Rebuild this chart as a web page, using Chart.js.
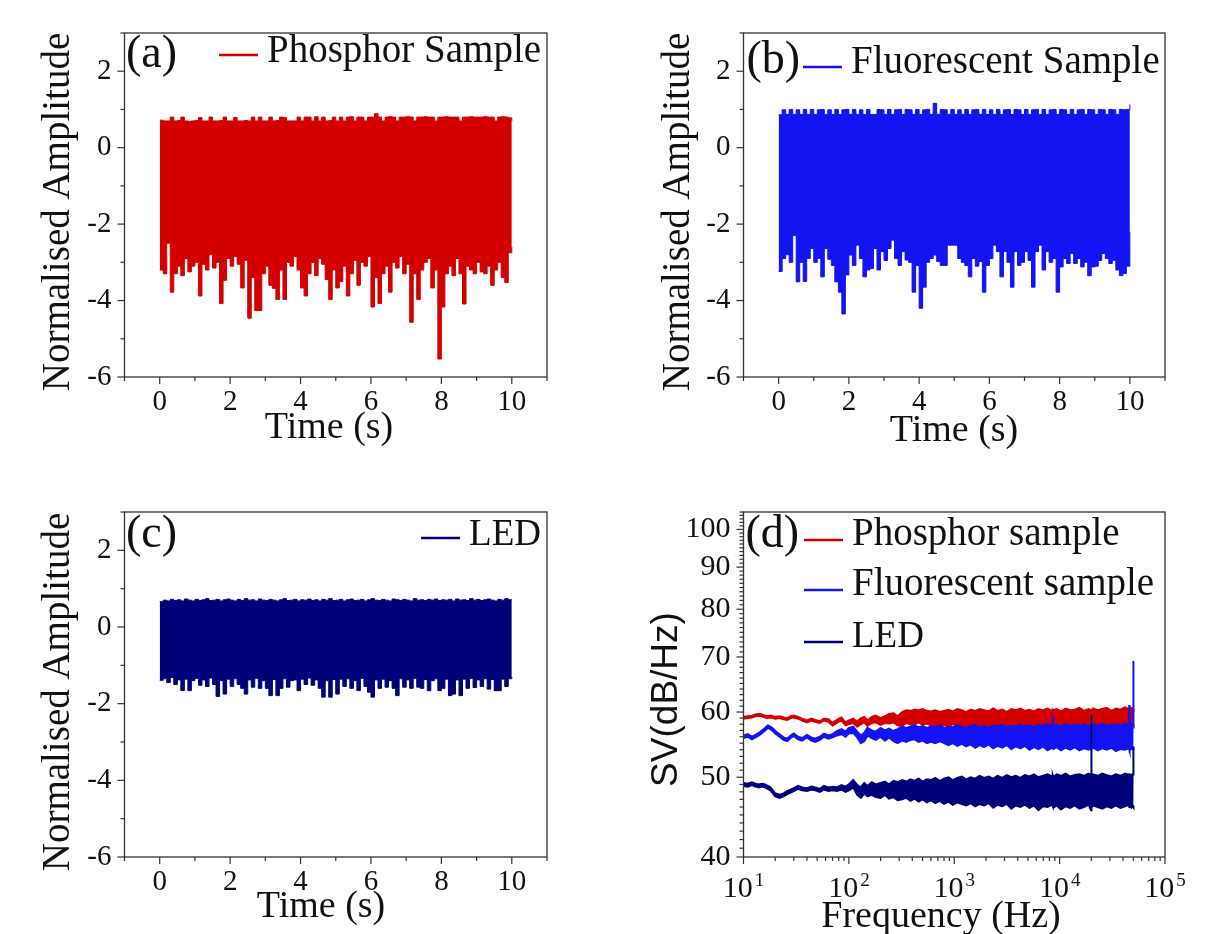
<!DOCTYPE html>
<html>
<head>
<meta charset="utf-8">
<title>Noise traces and spectra</title>
<script src="https://cdn.jsdelivr.net/npm/chart.js@4.4.1/dist/chart.umd.min.js"></script>
<style>
  html, body { margin: 0; padding: 0; background: #fff; }
  #page { position: relative; width: 1208px; height: 934px; overflow: hidden; background: #fff; }
  #page canvas { position: absolute; left: 0; top: 0; }
</style>
</head>
<body>
<div id="page">
  <canvas id="chartA" width="1208" height="934"></canvas>
  <canvas id="chartB" width="1208" height="934"></canvas>
  <canvas id="chartC" width="1208" height="934"></canvas>
  <canvas id="chartD" width="1208" height="934"></canvas>
</div>
<script>
// ---------- data ----------
// time traces: upper / lower envelope per 0.1 s bin (last value = t 10 s)
var tStep = 0.1;

var hiA = [0.72,0.70,0.70,0.80,0.70,0.71,0.80,0.70,0.69,0.70,
  0.71,0.79,0.70,0.70,0.80,0.70,0.70,0.71,0.80,0.70,
  0.70,0.79,0.70,0.70,0.71,0.70,0.80,0.70,0.80,0.70,
  0.70,0.80,0.70,0.71,0.80,0.79,0.70,0.70,0.70,0.80,
  0.70,0.80,0.80,0.70,0.81,0.70,0.80,0.70,0.71,0.80,
  0.70,0.80,0.70,0.80,0.81,0.70,0.80,0.80,0.70,0.80,
  0.80,0.89,0.80,0.70,0.80,0.81,0.80,0.70,0.80,0.80,
  0.81,0.80,0.70,0.80,0.80,0.81,0.80,0.80,0.70,0.80,
  0.80,0.81,0.80,0.80,0.80,0.70,0.80,0.80,0.81,0.80,
  0.80,0.80,0.81,0.80,0.80,0.70,0.80,0.81,0.80,0.78,
  0.70];
var loA = [-3.2,-3.3,-2.5,-3.78,-3.3,-3.1,-3.35,-2.9,-3.25,-3.1,
  -3.0,-3.88,-3.05,-3.2,-2.8,-3.15,-3.0,-4.08,-3.47,-2.9,
  -3.1,-2.85,-3.05,-3.67,-2.95,-4.46,-3.4,-4.26,-4.26,-3.3,
  -3.1,-3.6,-3.68,-3.97,-3.2,-3.97,-3.0,-3.1,-2.85,-3.2,
  -3.67,-3.88,-3.3,-3.0,-3.35,-2.9,-3.05,-3.45,-3.97,-3.2,
  -3.67,-3.5,-3.1,-3.88,-3.3,-2.95,-3.6,-3.0,-3.1,-2.85,
  -4.17,-3.4,-4.08,-3.3,-3.1,-3.78,-3.0,-3.15,-2.85,-3.3,
  -3.05,-4.57,-3.3,-3.97,-3.2,-3.0,-2.9,-3.67,-3.2,-5.53,
  -4.17,-3.3,-3.1,-3.35,-2.9,-3.3,-4.09,-3.1,-3.2,-3.3,
  -3.0,-3.25,-3.3,-3.1,-3.6,-3.2,-3.0,-3.4,-3.53,-2.75,
  -2.6];

var hiB = [0.86,0.99,0.87,1.0,0.87,0.99,0.87,1.0,0.87,1.0,
  0.87,0.99,1.0,0.87,0.99,0.87,1.0,0.87,0.99,1.0,
  0.87,1.0,0.87,0.99,0.87,1.0,0.87,0.87,1.0,0.99,
  0.87,1.0,0.87,0.99,1.0,0.87,1.0,0.99,0.87,1.0,
  0.87,0.99,1.0,0.87,1.16,0.87,1.0,0.99,0.87,1.0,
  0.87,0.99,0.87,1.0,0.87,0.99,1.0,0.87,1.0,0.87,
  0.99,0.87,1.0,0.87,0.99,1.0,0.87,1.0,0.99,0.87,
  1.0,0.87,0.99,1.0,0.87,1.0,0.87,0.99,1.0,0.87,
  1.0,0.99,0.87,1.0,0.87,0.99,1.0,0.87,1.0,0.99,
  0.87,1.0,0.99,0.87,1.0,0.99,0.87,1.0,0.99,1.0,
  1.13];
var loB = [-3.24,-2.9,-2.8,-3.0,-2.3,-3.51,-3.0,-3.5,-2.9,-2.64,
  -3.0,-2.9,-3.38,-2.64,-2.92,-3.08,-3.51,-3.78,-4.35,-3.33,
  -2.81,-3.08,-2.55,-2.9,-3.38,-3.2,-3.16,-2.64,-3.2,-2.72,
  -2.95,-2.64,-2.42,-2.9,-3.08,-2.72,-2.94,-3.0,-3.78,-3.08,
  -4.2,-3.65,-3.0,-2.9,-2.81,-2.98,-3.08,-3.08,-2.55,-2.55,
  -2.55,-2.9,-3.0,-3.08,-3.38,-2.9,-3.1,-2.98,-3.78,-3.08,
  -2.9,-2.55,-2.72,-3.38,-2.72,-3.0,-3.65,-2.72,-3.08,-3.0,
  -2.72,-2.95,-3.65,-2.72,-2.55,-3.2,-2.72,-3.0,-2.9,-3.78,
  -3.12,-2.9,-3.03,-2.77,-3.03,-2.9,-3.12,-3.0,-3.35,-3.12,
  -3.1,-2.95,-2.77,-2.9,-3.03,-2.95,-3.2,-3.35,-3.29,-3.1,
  -2.2];

var hiC = [0.66,0.70,0.68,0.72,0.69,0.71,0.68,0.73,0.70,0.68,
  0.72,0.69,0.71,0.74,0.69,0.70,0.72,0.68,0.71,0.73,
  0.70,0.68,0.72,0.69,0.74,0.70,0.71,0.68,0.73,0.70,
  0.69,0.72,0.70,0.68,0.71,0.74,0.69,0.70,0.72,0.68,
  0.71,0.70,0.73,0.69,0.71,0.68,0.72,0.70,0.74,0.69,
  0.70,0.72,0.68,0.71,0.73,0.69,0.70,0.72,0.68,0.71,
  0.74,0.70,0.69,0.72,0.70,0.68,0.73,0.71,0.69,0.72,
  0.70,0.68,0.74,0.70,0.71,0.69,0.72,0.70,0.73,0.69,
  0.71,0.70,0.72,0.68,0.73,0.70,0.71,0.69,0.74,0.70,
  0.72,0.69,0.71,0.73,0.70,0.68,0.72,0.70,0.74,0.71,
  0.72];
var loC = [-1.39,-1.35,-1.45,-1.32,-1.5,-1.38,-1.66,-1.36,-1.66,-1.4,
  -1.34,-1.52,-1.38,-1.55,-1.33,-1.5,-1.81,-1.4,-1.75,-1.36,
  -1.55,-1.35,-1.5,-1.6,-1.75,-1.38,-1.57,-1.34,-1.6,-1.4,
  -1.6,-1.79,-1.37,-1.79,-1.6,-1.35,-1.57,-1.4,-1.38,-1.66,
  -1.36,-1.5,-1.33,-1.52,-1.38,-1.6,-1.83,-1.4,-1.83,-1.37,
  -1.75,-1.36,-1.55,-1.35,-1.6,-1.4,-1.66,-1.34,-1.55,-1.7,
  -1.83,-1.38,-1.6,-1.36,-1.57,-1.4,-1.6,-1.79,-1.35,-1.57,
  -1.38,-1.6,-1.34,-1.57,-1.6,-1.37,-1.66,-1.4,-1.35,-1.66,
  -1.6,-1.36,-1.79,-1.75,-1.38,-1.79,-1.36,-1.6,-1.34,-1.58,
  -1.38,-1.55,-1.35,-1.62,-1.37,-1.66,-1.66,-1.36,-1.55,-1.35,
  -1.3];

// spectra: frequency (Hz) and upper / lower envelope (dB/Hz)
var freqD = [10,11,12,13,14,15,16,17,18,19,
  20,22,24,26,28,30,33,36,40,44,
  48,53,58,64,70,77,85,93,100,110,
  120,130,140,150,165,180,200,220,240,265,
  290,320,350,385,420,460,500,550,600,660,
  730,800,880,970,1070,1180,1300,1430,1580,1740,
  1920,2120,2340,2580,2850,3150,3480,3840,4240,4680,
  5170,5710,6300,6960,7680,8480,8600,8720,9360,10300,
  11400,12600,13900,15400,17000,18800,19900,20000,20100,20800,
  23000,25400,28000,31000,34200,37800,41700,45500,45800,46100,
  48000,49700,49900,50100,50500];

var phosHi = [59.2,59.3,59.4,59.6,59.7,59.6,59.4,59.3,59.4,59.3,
  59.2,59.3,59.1,59.0,59.3,59.4,59.2,58.9,58.6,58.9,
  58.7,58.5,58.9,58.8,58.2,58.7,59.1,58.3,58.6,58.9,
  58.4,59.0,59.2,58.6,59.2,59.4,59.0,59.3,59.7,59.8,
  59.3,60.0,60.3,60.2,60.4,60.3,60.5,60.2,60.1,60.3,
  60.0,60.2,60.4,60.1,60.5,60.3,60.0,60.4,60.2,60.5,
  60.3,60.1,60.6,60.2,60.4,60.0,60.5,60.3,60.6,60.2,
  60.4,60.1,60.5,60.3,60.6,60.2,60.4,60.3,60.5,60.1,
  60.6,60.3,60.4,60.7,60.2,60.5,60.3,60.4,60.3,60.6,
  60.3,60.5,60.7,60.2,60.6,60.4,60.8,60.5,60.6,60.4,
  60.7,60.5,60.6,60.5,60.4];
var phosLo = [58.9,59.0,59.1,59.3,59.4,59.3,59.1,59.0,59.1,59.0,
  58.9,59.0,58.8,58.7,59.0,59.1,58.9,58.6,58.3,58.6,
  58.4,58.2,58.6,58.4,57.8,58.2,58.6,57.8,58.0,58.2,
  57.6,58.0,58.3,57.7,58.2,58.3,57.9,58.2,58.1,58.3,
  57.8,57.7,58.2,57.9,58.0,58.3,57.9,58.1,57.8,57.6,
  57.8,57.9,57.6,58.0,57.7,57.9,57.6,57.8,58.0,57.7,
  57.9,57.6,57.8,57.5,57.9,57.7,57.6,57.9,57.5,57.8,
  57.6,57.8,57.5,57.7,57.9,57.6,57.8,57.7,57.6,57.8,
  57.5,57.7,57.9,57.6,57.8,57.5,57.7,57.6,57.8,57.5,
  57.7,57.9,57.6,57.8,57.5,57.7,57.9,57.6,57.8,57.7,
  57.6,57.8,57.7,57.9,58.0];

var fluoHi = [56.2,56.4,56.0,56.3,56.6,57.0,57.4,57.8,57.6,57.3,
  56.9,56.4,55.9,55.7,56.2,56.5,56.0,55.8,56.3,55.9,
  55.7,56.0,56.5,56.2,56.4,56.9,57.2,56.8,57.4,57.6,
  56.8,56.2,56.6,57.4,57.0,56.8,57.4,57.0,57.3,56.9,
  57.2,57.6,57.4,57.6,57.8,57.5,57.7,57.4,57.6,57.5,
  57.8,57.4,57.6,57.5,57.8,57.6,57.4,57.7,57.9,57.5,
  57.7,57.4,57.8,57.6,57.9,57.5,57.7,57.6,57.9,57.6,
  57.8,57.5,57.9,57.7,58.0,57.8,59.5,57.7,57.9,57.6,
  58.0,57.7,57.9,57.8,58.0,57.6,57.9,57.8,57.7,58.0,
  57.8,58.1,57.7,57.9,58.0,57.8,58.1,57.9,61.2,58.0,
  58.1,57.9,69.2,58.0,57.8];
var fluoLo = [55.8,56.0,55.6,55.9,56.2,56.6,57.0,57.4,57.2,56.9,
  56.5,56.0,55.5,55.3,55.8,56.1,55.6,55.4,55.9,55.4,
  55.2,55.5,56.0,55.7,55.9,56.2,56.4,56.0,56.5,56.6,
  55.9,55.0,55.3,56.2,55.8,55.5,56.0,55.4,55.9,55.3,
  55.0,55.4,55.2,55.5,55.6,55.2,55.4,55.0,55.2,55.0,
  55.3,55.0,54.7,55.0,54.6,54.9,54.5,54.8,54.3,54.7,
  54.4,54.8,54.2,54.6,54.3,54.7,54.1,54.5,54.2,54.6,
  54.0,54.4,54.1,54.5,53.9,54.3,54.2,54.1,54.4,53.9,
  54.3,54.0,54.4,53.9,54.2,54.0,54.3,53.9,54.1,54.3,
  53.9,54.2,54.0,54.3,53.8,54.1,54.0,54.2,54.1,53.9,
  54.2,54.0,54.1,54.0,54.3];

var ledHi = [49.2,49.1,49.3,49.1,49.0,49.1,49.0,48.8,48.6,48.2,
  47.8,47.6,47.8,48.1,48.3,48.5,48.8,48.6,48.5,48.7,
  48.6,48.4,48.8,48.6,48.7,48.6,48.9,48.7,49.0,49.6,
  48.9,48.6,49.2,48.8,49.3,49.0,49.2,49.4,49.0,49.5,
  49.3,49.6,49.4,49.7,49.5,49.8,49.4,49.7,49.6,49.9,
  49.5,49.8,50.0,49.6,49.9,50.1,49.7,50.0,49.8,50.2,
  49.9,50.1,49.8,50.2,49.9,50.3,50.0,50.2,49.9,50.3,
  50.1,50.4,50.0,50.2,50.4,50.1,50.3,50.0,50.4,50.2,
  50.5,50.1,50.3,50.4,50.2,50.5,50.3,59.6,50.2,50.4,
  50.2,50.5,50.3,50.1,50.4,50.2,50.5,50.3,50.1,50.4,
  50.3,50.5,50.2,54.5,50.2];
var ledLo = [48.8,48.7,48.9,48.7,48.6,48.7,48.6,48.4,48.2,47.8,
  47.4,47.2,47.4,47.7,47.9,48.1,48.4,48.2,48.1,48.3,
  48.2,48.0,48.3,48.1,48.2,48.1,48.3,48.0,48.2,48.6,
  47.6,47.2,47.8,47.4,47.6,47.3,47.2,47.6,47.1,47.3,
  46.9,47.0,47.2,46.8,47.1,46.7,47.0,46.6,46.9,46.5,
  46.8,46.4,46.7,46.3,46.6,46.4,46.2,46.5,46.1,46.4,
  46.2,46.5,45.9,46.3,46.1,46.4,45.8,46.2,46.0,46.3,
  45.9,46.2,45.6,46.1,46.0,46.3,46.1,45.9,46.2,45.7,
  46.1,45.9,46.2,45.8,46.0,46.3,45.6,46.1,45.9,46.2,
  46.0,45.8,46.1,45.9,46.2,45.9,46.1,46.3,46.0,46.2,
  45.9,46.1,46.0,46.2,46.1];

// names and tick labels
var traceNames = ['Phosphor Sample', 'Fluorescent Sample', 'LED'];
var spectrumNames = ['Phosphor sample', 'Fluorescent sample', 'LED'];
var timeTickLabels = [0, 2, 4, 6, 8, 10];
var ampTickLabels = [-6, -4, -2, 0, 2];
var svTickLabels = [40, 50, 60, 70, 80, 90, 100];
var freqDecades = [1, 2, 3, 4, 5];

// ---------- styling ----------
var RED = '#d40000', BLUE = '#1414f2', NAVY = '#00007a';
var SERIF = '"Liberation Serif", "Times New Roman", serif';
var SANS = '"Liberation Sans", Arial, sans-serif';
var INK = '#111';
var AXIS = '#333';

function tickMarks(ctx, scale, area, isMajor) {
  var horiz = scale.isHorizontal();
  scale.ticks.forEach(function (t) {
    var p = scale.getPixelForValue(t.value);
    var len = isMajor(t.value) ? 7 : 4;
    ctx.beginPath();
    if (horiz) {
      ctx.moveTo(p, area.bottom);
      ctx.lineTo(p, area.bottom + len);
    } else {
      ctx.moveTo(area.left, p);
      ctx.lineTo(area.left - len, p);
    }
    ctx.stroke();
  });
}

// frame, ticks, letters, legend and titles
function decor(cfg) {
  return {
    id: 'decor',
    afterDraw: function (chart) {
      var ctx = chart.ctx, a = chart.chartArea;
      ctx.save();
      ctx.strokeStyle = AXIS;
      ctx.lineWidth = 1.3;
      ctx.strokeRect(a.left, a.top, a.right - a.left, a.bottom - a.top);
      ctx.lineWidth = 1.2;
      tickMarks(ctx, chart.scales.x, a, cfg.xMajor);
      tickMarks(ctx, chart.scales.y, a, cfg.yMajor);

      ctx.fillStyle = INK;
      ctx.textBaseline = 'alphabetic';
      ctx.textAlign = 'left';
      ctx.font = '46px ' + SERIF;
      ctx.fillText(cfg.letter[0], cfg.letter[1], cfg.letter[2]);

      cfg.legend.forEach(function (e) {
        ctx.font = e.size + 'px ' + SERIF;
        var w = ctx.measureText(e.label).width;
        var tx = e.right ? e.right - w : e.x;
        ctx.strokeStyle = e.color;
        ctx.lineWidth = 2.5;
        ctx.beginPath();
        ctx.moveTo(tx - 9 - 39, e.lineY);
        ctx.lineTo(tx - 9, e.lineY);
        ctx.stroke();
        ctx.fillText(e.label, tx, e.y);
      });

      ctx.textAlign = 'center';
      ctx.font = cfg.xTitle.font;
      ctx.fillText(cfg.xTitle.text, cfg.xTitle.x, cfg.xTitle.y);

      ctx.save();
      ctx.translate(cfg.yTitle.x, cfg.yTitle.y);
      ctx.rotate(-Math.PI / 2);
      ctx.font = cfg.yTitle.font;
      ctx.fillText(cfg.yTitle.text, 0, 0);
      ctx.restore();

      if (cfg.powers) {
        var xs = chart.scales.x;
        freqDecades.forEach(function (e) {
          var px = xs.getPixelForValue(Math.pow(10, e));
          ctx.font = '30px ' + SERIF;
          var w1 = ctx.measureText('10').width;
          ctx.font = '19px ' + SERIF;
          var w2 = ctx.measureText(String(e)).width;
          var x0 = px - (w1 + 2 + w2) / 2;
          ctx.textAlign = 'left';
          ctx.font = '30px ' + SERIF;
          ctx.fillText('10', x0, cfg.powers);
          ctx.font = '19px ' + SERIF;
          ctx.fillText(String(e), x0 + w1 + 2, cfg.powers - 11);
        });
      }
      ctx.restore();
    }
  };
}

function baseOptions(area, scales) {
  return {
    responsive: false,
    devicePixelRatio: 1,
    animation: false,
    events: [],
    layout: { padding: { left: area.L - 60, top: area.T, right: 1208 - area.R, bottom: 934 - area.B - 60 } },
    plugins: { legend: { display: false }, tooltip: { enabled: false } },
    scales: scales
  };
}

function timeChart(id, area, color, hi, lo, cfg) {
  var hiPts = hi.map(function (v, i) { return { x: i * tStep, y: v }; });
  var loPts = lo.map(function (v, i) { return { x: i * tStep, y: v }; });
  var tickFont = { family: SERIF, size: 29 };
  return new Chart(document.getElementById(id), {
    type: 'line',
    data: {
      datasets: [
        { data: hiPts, borderColor: color, borderWidth: 1, pointRadius: 0, stepped: true, fill: false },
        { data: loPts, borderColor: color, borderWidth: 1, pointRadius: 0, stepped: true, fill: '-1', backgroundColor: color }
      ]
    },
    options: baseOptions(area, {
      x: {
        type: 'linear', min: -1, max: 11,
        afterFit: function (s) { s.height = 60; },
        grid: { display: false, drawTicks: false }, border: { display: false },
        ticks: {
          stepSize: 1, autoSkip: false, maxRotation: 0, padding: 8, font: tickFont, color: INK,
          callback: function (v) { return timeTickLabels.indexOf(v) >= 0 ? String(v) : ''; }
        }
      },
      y: {
        type: 'linear', min: -6, max: 3,
        afterFit: function (s) { s.width = 60; },
        grid: { display: false, drawTicks: false }, border: { display: false },
        ticks: {
          stepSize: 1, autoSkip: false, padding: 13, font: tickFont, color: INK,
          callback: function (v) { return ampTickLabels.indexOf(v) >= 0 ? String(v) : ''; }
        }
      }
    }),
    plugins: [decor(cfg)]
  });
}

var evenMajor = function (v) { return v % 2 === 0; };

timeChart('chartA', { L: 124.5, R: 547, T: 33, B: 377 }, RED, hiA, loA, {
  xMajor: evenMajor, yMajor: evenMajor,
  letter: ['(a)', 126, 67],
  legend: [{ label: traceNames[0], color: RED, x: 267, y: 62, lineY: 55, size: 39 }],
  xTitle: { text: 'Time (s)', x: 329, y: 438, font: '38px ' + SERIF },
  yTitle: { text: 'Normalised Amplitude', x: 69, y: 212, font: '39px ' + SERIF }
});

timeChart('chartB', { L: 743.5, R: 1165, T: 33, B: 377 }, BLUE, hiB, loB, {
  xMajor: evenMajor, yMajor: evenMajor,
  letter: ['(b)', 746.5, 73],
  legend: [{ label: traceNames[1], color: BLUE, x: 851, y: 73, lineY: 67, size: 39 }],
  xTitle: { text: 'Time (s)', x: 954, y: 441, font: '38px ' + SERIF },
  yTitle: { text: 'Normalised Amplitude', x: 689, y: 212, font: '39px ' + SERIF }
});

timeChart('chartC', { L: 124.5, R: 547, T: 512, B: 857 }, NAVY, hiC, loC, {
  xMajor: evenMajor, yMajor: evenMajor,
  letter: ['(c)', 126, 547],
  legend: [{ label: traceNames[2], color: NAVY, right: 541, y: 545, lineY: 538, size: 37 }],
  xTitle: { text: 'Time (s)', x: 321, y: 917, font: '38px ' + SERIF },
  yTitle: { text: 'Normalised Amplitude', x: 69, y: 692, font: '39px ' + SERIF }
});

// ---------- spectra ----------
function envelopePts(values) {
  return values.map(function (v, i) { return { x: freqD[i], y: v }; });
}

function band(color, hi, lo, order) {
  return [
    { data: envelopePts(hi), borderColor: color, borderWidth: 2, pointRadius: 0, fill: false, order: order },
    { data: envelopePts(lo), borderColor: color, borderWidth: 2, pointRadius: 0, fill: '-1', backgroundColor: color, order: order }
  ];
}

var freqTicks = [];
[1, 2, 3, 4].forEach(function (e) {
  for (var m = 1; m <= 9; m++) freqTicks.push(m * Math.pow(10, e));
});
freqTicks.push(100000);
var svTicks = [];
for (var s = 40; s <= 105; s++) svTicks.push(s);

var areaD = { L: 743.5, R: 1165, T: 512, B: 857 };
new Chart(document.getElementById('chartD'), {
  type: 'line',
  data: {
    datasets: [].concat(
      band(RED, phosHi, phosLo, 3),
      band(BLUE, fluoHi, fluoLo, 2),
      band(NAVY, ledHi, ledLo, 1)
    )
  },
  options: baseOptions(areaD, {
    x: {
      type: 'logarithmic', min: 10, max: 100000,
      afterFit: function (s) { s.height = 60; },
      afterBuildTicks: function (s) { s.ticks = freqTicks.map(function (v) { return { value: v }; }); },
      grid: { display: false, drawTicks: false }, border: { display: false },
      ticks: { display: false, autoSkip: false }
    },
    y: {
      type: 'logarithmic', min: 40, max: 105,
      afterFit: function (s) { s.width = 60; },
      afterBuildTicks: function (s) { s.ticks = svTicks.map(function (v) { return { value: v }; }); },
      grid: { display: false, drawTicks: false }, border: { display: false },
      ticks: {
        autoSkip: false, padding: 13, font: { family: SERIF, size: 30 }, color: INK,
        callback: function (v) { return svTickLabels.indexOf(v) >= 0 ? String(v) : ''; }
      }
    }
  }),
  plugins: [decor({
    xMajor: function (v) { return Math.abs(Math.log10(v) - Math.round(Math.log10(v))) < 1e-9; },
    yMajor: function (v) { return v % 10 === 0; },
    letter: ['(d)', 745.5, 547],
    legend: [
      { label: spectrumNames[0], color: RED, x: 852, y: 545, lineY: 540, size: 39 },
      { label: spectrumNames[1], color: BLUE, x: 852, y: 595, lineY: 590, size: 39 },
      { label: spectrumNames[2], color: NAVY, x: 852, y: 647, lineY: 642, size: 37 }
    ],
    xTitle: { text: 'Frequency (Hz)', x: 941, y: 927, font: '38px ' + SERIF },
    yTitle: { text: 'SV(dB/Hz)', x: 677, y: 699.5, font: '37px ' + SANS },
    powers: 897
  })]
});
</script>
</body>
</html>
